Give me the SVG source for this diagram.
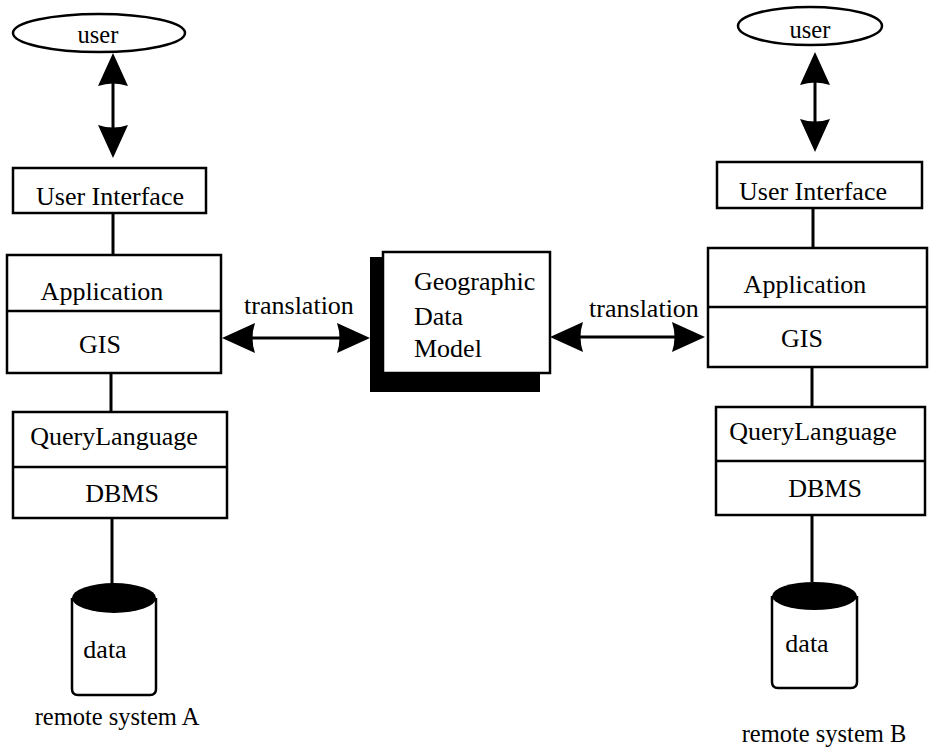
<svg xmlns="http://www.w3.org/2000/svg" width="929" height="751" viewBox="0 0 929 751" font-family="'Liberation Serif', 'DejaVu Serif', 'Noto Serif', serif">
  <style>
    text { font-family: 'Liberation Serif', 'DejaVu Serif', 'Noto Serif', serif; font-size: 26px; fill: #000; }
    .mid { text-anchor: middle; }
    .small { font-size: 24.5px; }
    .box { fill: #fff; stroke: #000; stroke-width: 2.5; }
    .div { stroke: #000; stroke-width: 2.5; }
    .conn { stroke: #000; stroke-width: 3; fill: none; }
    .arrow { stroke: #000; stroke-width: 3; fill: none; marker-start: url(#head); marker-end: url(#head); }
    .cyl { fill: #fff; stroke: #000; stroke-width: 2.5; }
  </style>
  <defs>
    <marker id="head" markerUnits="userSpaceOnUse" markerWidth="33" markerHeight="30" viewBox="0 0 33 30" refX="27" refY="15" orient="auto-start-reverse">
      <path d="M33,15 L0,0 Q5,15 0,30 Z" fill="#000"/>
    </marker>
  </defs>
  <rect width="929" height="751" fill="#fff"/>

  <!-- connectors -->
  <g id="connectors">
    <!-- system A stack -->
    <line class="arrow" x1="113" y1="59" x2="113" y2="152"/>
    <line class="conn" x1="113" y1="213" x2="113" y2="255"/>
    <line class="conn" x1="111" y1="373" x2="111" y2="412"/>
    <line class="conn" x1="112" y1="518" x2="112" y2="584"/>
    <!-- system B stack -->
    <line class="arrow" x1="815" y1="58" x2="815" y2="146"/>
    <line class="conn" x1="813" y1="208" x2="813" y2="248"/>
    <line class="conn" x1="812" y1="367" x2="812" y2="407"/>
    <line class="conn" x1="812" y1="515" x2="812" y2="582"/>
    <!-- translations -->
    <line class="arrow" x1="228" y1="338" x2="364" y2="338"/>
    <line class="arrow" x1="556" y1="337" x2="699" y2="337"/>
    <text class="mid" x="299" y="314">translation</text>
    <text class="mid" x="644" y="317">translation</text>
  </g>

  <!-- remote system A -->
  <g id="userA">
    <ellipse cx="99" cy="33" rx="86" ry="19" fill="#fff" stroke="#000" stroke-width="2.5"/>
    <text class="mid small" x="98" y="43">user</text>
  </g>
  <g id="uiA">
    <rect class="box" x="13" y="168" width="193" height="45"/>
    <text class="mid" x="110" y="205">User Interface</text>
  </g>
  <g id="appA">
    <rect class="box" x="7" y="255" width="214" height="118"/>
    <line class="div" x1="7" y1="311" x2="221" y2="311"/>
    <text class="mid" x="102" y="300">Application</text>
    <text class="mid" x="100" y="353">GIS</text>
  </g>
  <g id="dbA">
    <rect class="box" x="13" y="412" width="214" height="106"/>
    <line class="div" x1="13" y1="467" x2="227" y2="467"/>
    <text class="mid" x="114" y="445">QueryLanguage</text>
    <text class="mid" x="122" y="502">DBMS</text>
  </g>
  <g id="dataA">
    <path class="cyl" d="M72,598 L72,689 Q72,695 78,695 L150,695 Q156,695 156,689 L156,598"/>
    <ellipse cx="114" cy="598" rx="42" ry="15" fill="#000"/>
    <text class="mid" x="105" y="658">data</text>
  </g>
  <text class="mid small" x="117" y="725">remote system A</text>

  <!-- shared model -->
  <g id="model">
    <rect x="370" y="257" width="170" height="135" fill="#000"/>
    <rect class="box" x="383" y="252" width="167" height="121"/>
    <text x="414" y="290">Geographic</text>
    <text x="414" y="325">Data</text>
    <text x="414" y="357">Model</text>
  </g>

  <!-- remote system B -->
  <g id="userB">
    <ellipse cx="810" cy="26" rx="72" ry="19" fill="#fff" stroke="#000" stroke-width="2.5"/>
    <text class="mid small" x="810" y="38">user</text>
  </g>
  <g id="uiB">
    <rect class="box" x="717" y="162" width="205" height="46"/>
    <text class="mid" x="813" y="200">User Interface</text>
  </g>
  <g id="appB">
    <rect class="box" x="708" y="248" width="219" height="119"/>
    <line class="div" x1="708" y1="307" x2="927" y2="307"/>
    <text class="mid" x="805" y="293">Application</text>
    <text class="mid" x="802" y="347">GIS</text>
  </g>
  <g id="dbB">
    <rect class="box" x="716" y="407" width="209" height="108"/>
    <line class="div" x1="716" y1="461" x2="925" y2="461"/>
    <text class="mid" x="813" y="440">QueryLanguage</text>
    <text class="mid" x="825" y="497">DBMS</text>
  </g>
  <g id="dataB">
    <path class="cyl" d="M772,596 L772,682 Q772,688 778,688 L851,688 Q857,688 857,682 L857,596"/>
    <ellipse cx="814.5" cy="596" rx="42.5" ry="14" fill="#000"/>
    <text class="mid" x="807" y="652">data</text>
  </g>
  <text class="mid small" x="824" y="742">remote system B</text>
</svg>
